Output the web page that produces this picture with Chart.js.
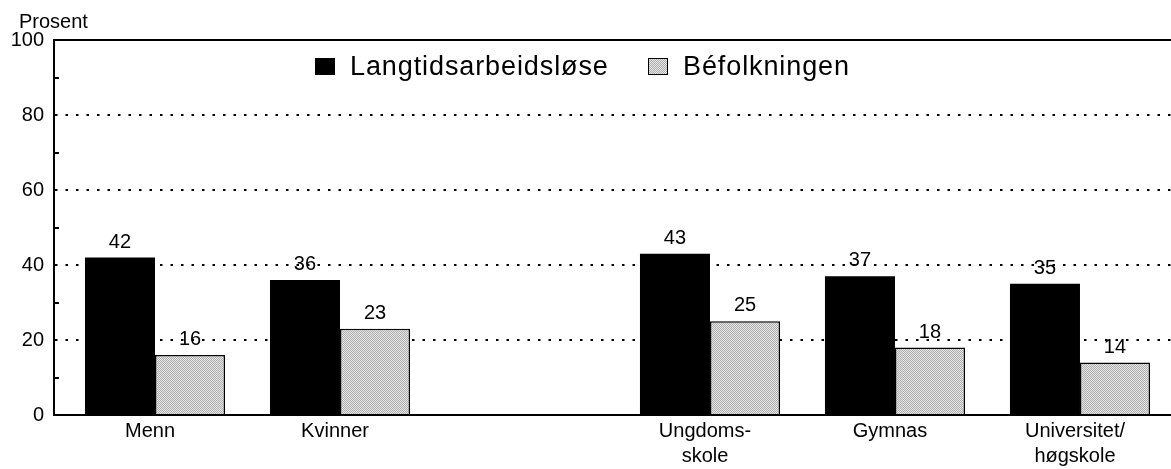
<!DOCTYPE html>
<html>
<head>
<meta charset="utf-8">
<script src="https://cdn.jsdelivr.net/npm/chart.js@4.4.0/dist/chart.umd.min.js"></script>
<style>
  body { margin: 0; background: #fff; }
  #wrap { position: relative; width: 1171px; height: 469px; font-family: "Liberation Sans", Arial, sans-serif; }
  .lg-box { position: absolute; width: 20px; height: 17px; box-sizing: border-box; }
  .lg-text { position: absolute; font-size: 27px; line-height: 28px; letter-spacing: 0.9px; color: #000; white-space: nowrap; }
  #unit { position: absolute; left: 19px; top: 11px; font-size: 20px; line-height: 20px; color: #000; }
</style>
</head>
<body>
<div id="wrap">
  <canvas id="chart" width="1171" height="469"></canvas>
  <div id="unit">Prosent</div>
  <div id="legend"></div>
</div>
<script>
const CATEGORIES = ["Menn", "Kvinner", "", ["Ungdoms-", "skole"], "Gymnas", ["Universitet/", "høgskole"]];
const CATEGORY_POS = [0, 1, 2, 3, 4, 5];
const LONG_TERM = [42, 36, null, 43, 37, 35];
const POPULATION = [16, 23, null, 25, 18, 14];
const SERIES_NAMES = ["Langtidsarbeidsløse", "Béfolkningen"];
const Y_TICKS = [0, 20, 40, 60, 80, 100];

const FONT = '"Liberation Sans", Arial, sans-serif';

// stippled grey like the printed original
function stipple() {
  const c = document.createElement("canvas");
  c.width = 2;
  c.height = 2;
  const g = c.getContext("2d");
  g.fillStyle = "#e8e8e8";
  g.fillRect(0, 0, 2, 2);
  g.fillStyle = "#acacac";
  g.fillRect(0, 0, 1, 1);
  g.fillRect(1, 1, 1, 1);
  return g.createPattern(c, "repeat");
}
const GREY = stipple();

function points(values) {
  return CATEGORY_POS.map((x, i) => ({ x, y: values[i] }));
}

const valueLabels = {
  id: "valueLabels",
  afterDatasetsDraw(chart) {
    const ctx = chart.ctx;
    ctx.save();
    ctx.font = `20px ${FONT}`;
    ctx.fillStyle = "#000";
    ctx.textAlign = "center";
    ctx.textBaseline = "alphabetic";
    chart.data.datasets.forEach((ds, di) => {
      chart.getDatasetMeta(di).data.forEach((bar, i) => {
        const v = ds.data[i].y;
        if (v == null) return;
        ctx.fillText(String(v), bar.x, bar.y - 10);
      });
    });
    ctx.restore();
  },
};

new Chart(document.getElementById("chart"), {
  type: "bar",
  data: {
    datasets: [
      { label: SERIES_NAMES[0], data: points(LONG_TERM), backgroundColor: "#000", borderWidth: 0 },
      { label: SERIES_NAMES[1], data: points(POPULATION), backgroundColor: GREY, borderColor: "#000", borderWidth: 1.5 },
    ],
  },
  options: {
    responsive: false,
    animation: false,
    devicePixelRatio: 1,
    categoryPercentage: 0.757,
    barPercentage: 1,
    layout: { padding: { left: 0, right: 0, top: 40, bottom: 0 } },
    plugins: {
      legend: { display: false },
      tooltip: { enabled: false },
    },
    scales: {
      x: {
        type: "linear",
        offset: false,
        min: -0.546,
        max: 5.492,
        afterBuildTicks: (s) => { s.ticks = [0, 1, 3, 4, 5].map((v) => ({ value: v })); },
        afterFit: (s) => { s.height = 54; },
        grid: { display: false, drawTicks: false, offset: false },
        border: { display: true, color: "#000", width: 2 },
        ticks: {
          autoSkip: false,
          maxRotation: 0,
          padding: 4,
          labelOffset: -5,
          color: "#000",
          font: { family: FONT, size: 20, lineHeight: 1.25 },
          callback: (v) => CATEGORIES[v],
        },
      },
      xTop: {
        type: "linear",
        position: "top",
        min: -0.546,
        max: 5.492,
        afterFit: (s) => { s.height = 0; },
        grid: { display: false, drawTicks: false },
        border: { display: true, color: "#000", width: 2 },
        ticks: { display: false },
      },
      y: {
        min: 0,
        max: 100,
        afterBuildTicks: (s) => {
          const t = [];
          for (let v = 0; v <= 100; v += 10) t.push({ value: v });
          s.ticks = t;
        },
        afterFit: (s) => { s.width = 54; },
        border: { display: true, color: "#000", width: 2, dash: [2.5, 8] },
        grid: {
          lineWidth: 2,
          color: (c) => ([20, 40, 60, 80].includes(c.tick && c.tick.value) ? "#000" : "rgba(0,0,0,0)"),
          tickLength: -5,
          tickWidth: 2,
          tickColor: (c) => (c.tick && c.tick.value % 20 === 10 ? "#000" : "rgba(0,0,0,0)"),
        },
        ticks: {
          padding: 15,
          color: "#000",
          font: { family: FONT, size: 20 },
          callback: (v) => (Y_TICKS.includes(v) ? String(v) : ""),
        },
      },
    },
  },
  plugins: [valueLabels],
});

// legend sits inside the plot, between the 100 and 80 lines
const legend = document.getElementById("legend");
const LEGEND_X = [315, 648];
SERIES_NAMES.forEach((name, i) => {
  const box = document.createElement("div");
  box.className = "lg-box";
  box.style.left = LEGEND_X[i] + "px";
  box.style.top = "58px";
  if (i === 0) {
    box.style.background = "#000";
  } else {
    box.style.background = "repeating-conic-gradient(#acacac 0 25%, #e8e8e8 0 50%) 0 0 / 2px 2px";
    box.style.border = "1.5px solid #000";
  }
  legend.appendChild(box);
  const txt = document.createElement("div");
  txt.className = "lg-text";
  txt.style.left = LEGEND_X[i] + 35 + "px";
  txt.style.top = "52px";
  txt.textContent = name;
  legend.appendChild(txt);
});
</script>
</body>
</html>
